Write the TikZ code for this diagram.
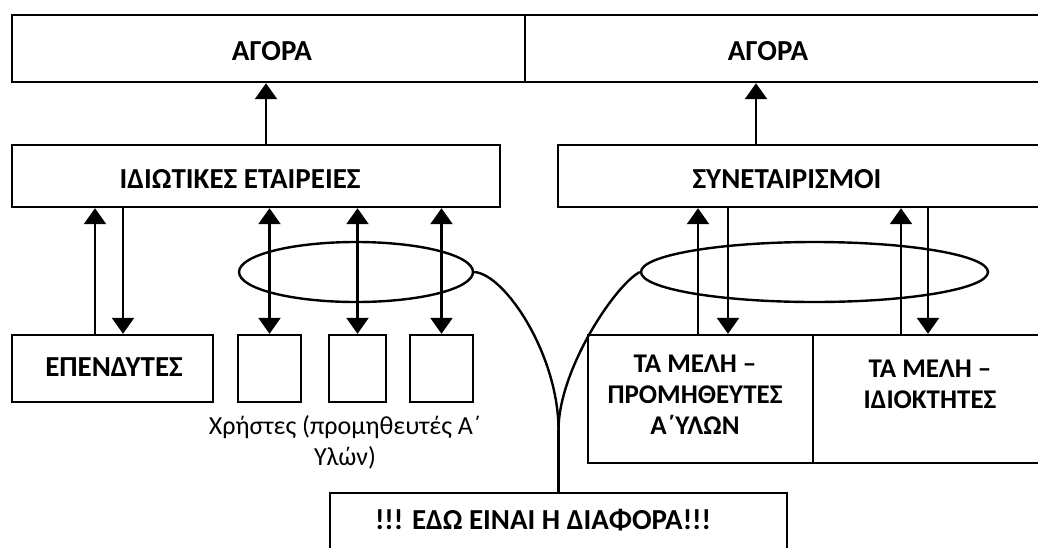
\documentclass[tikz,border=0pt]{standalone}
\usepackage{fontspec}
\setmainfont{Carlito}
\usetikzlibrary{arrows.meta,shapes.geometric}

\tikzset{
  box/.style={draw, line width=2.4pt, inner sep=0pt},
  oval/.style={draw, ellipse, line width=2.4pt, inner sep=0pt},
  caps/.style={font=\fontsize{29}{32}\selectfont\bfseries, align=center, inner sep=0pt},
  memcaps/.style={font=\fontsize{27}{31}\selectfont\bfseries, align=center, inner sep=0pt},
  txt/.style={font=\fontsize{26}{31}\selectfont, align=center, inner sep=0pt},
  arr/.style={line width=2.4pt, -{Triangle[length=16pt,width=22pt]}},
  dbl/.style={line width=2.4pt, {Triangle[length=16pt,width=22pt]}-{Triangle[length=16pt,width=22pt]}},
  link/.style={line width=2.4pt}
}

\begin{document}
\begin{tikzpicture}[x=1pt,y=-1pt]
  \useasboundingbox (0,0) rectangle (1038,547);
  \clip (0,0) rectangle (1038,547);
  % markets
  \node[box, minimum width=513pt, minimum height=67pt] (mktL) at (268.5,48.5) {};
  \node[box, minimum width=525pt, minimum height=67pt] (mktR) at (787.5,48.5) {};
  \node[caps] (mktLt) at (272,51) {ΑΓΟΡΑ};
  \node[caps] (mktRt) at (768,51) {ΑΓΟΡΑ};
  % firms and cooperatives
  \node[box, minimum width=488pt, minimum height=62pt] (prv) at (256,176) {};
  \node[box, minimum width=492pt, minimum height=62pt] (coop) at (804,176) {};
  \node[caps] (prvt) at (240,179) {ΙΔΙΩΤΙΚΕΣ ΕΤΑΙΡΕΙΕΣ};
  \node[caps] (coopt) at (787,179) {ΣΥΝΕΤΑΙΡΙΣΜΟΙ};
  \draw[arr] ([xshift=10pt]prv.north) -- ([xshift=10pt]prv.north |- mktL.south);
  \draw[arr] ([xshift=-48pt]coop.north) -- ([xshift=-48pt]coop.north |- mktR.south);
  % investors and users
  \node[box, minimum width=201pt, minimum height=67pt] (inv) at (112.5,368.5) {};
  \node[caps] (invt) at (114,367) {ΕΠΕΝΔΥΤΕΣ};
  \draw[arr] ([xshift=-17.5pt]inv.north) -- ([xshift=-17.5pt]inv.north |- prv.south);
  \draw[arr] ([xshift=10.5pt]inv.north |- prv.south) -- ([xshift=10.5pt]inv.north);
  \node[oval, minimum width=234pt, minimum height=60pt] (ovL) at (356,272) {};
  \foreach \n/\x/\w in {usr1/269.5/63, usr2/357.5/57, usr3/441.5/63} {
    \node[box, minimum width=\w pt, minimum height=67pt] (\n) at (\x,368.5) {};
    \draw[dbl] (\n.north) -- (\n.north |- prv.south);
  }
  \node[txt] (usrt) at (345,442) {Χρήστες (προμηθευτές Α΄\\Υλών)};
  % members
  \node[oval, minimum width=347pt, minimum height=60pt] (ovR) at (814.5,272) {};
  \node[box, minimum width=225pt, minimum height=128pt] (mem1) at (700.5,399) {};
  \node[box, minimum width=237pt, minimum height=128pt] (mem2) at (931.5,399) {};
  \node[memcaps] (mem1t) at (695,395) {ΤΑ ΜΕΛΗ –\\ΠΡΟΜΗΘΕΥΤΕΣ\\Α΄ΥΛΩΝ};
  \node[memcaps] (mem2t) at (930,384) {ΤΑ ΜΕΛΗ –\\ΙΔΙΟΚΤΗΤΕΣ};
  \draw[arr] ([xshift=-2.5pt]mem1.north) -- ([xshift=-2.5pt]mem1.north |- coop.south);
  \draw[arr] ([xshift=27.5pt]mem1.north |- coop.south) -- ([xshift=27.5pt]mem1.north);
  \draw[arr] ([xshift=-30.5pt]mem2.north) -- ([xshift=-30.5pt]mem2.north |- coop.south);
  \draw[arr] ([xshift=-3.5pt]mem2.north |- coop.south) -- ([xshift=-3.5pt]mem2.north);
  % the difference
  \node[box, minimum width=457pt, minimum height=58pt] (diff) at (558.5,522) {};
  \node[caps] (difft) at (543,520) {!!! ΕΔΩ ΕΙΝΑΙ Η ΔΙΑΦΟΡΑ!!!};
  \coordinate (meet) at (558.5,430);
  \draw[link] (ovL.east) .. controls (505,274) and (558.5,355) .. (meet);
  \draw[link] (ovR.west) .. controls (615,285) and (558.5,370) .. (meet);
  \draw[link] (meet) -- (diff.north);
\end{tikzpicture}
\end{document}
